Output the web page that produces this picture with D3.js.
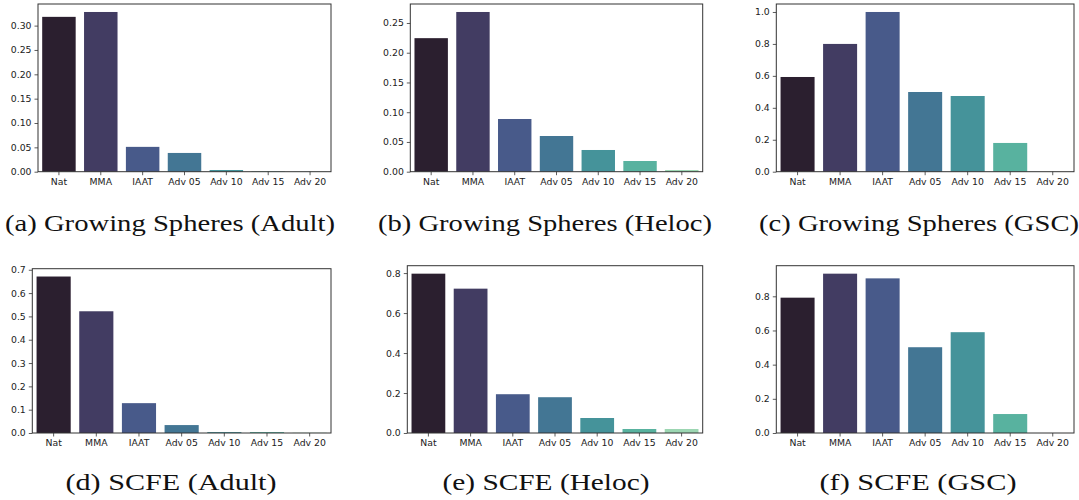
<!DOCTYPE html>
<html>
<head>
<meta charset="utf-8">
<script src="https://cdn.jsdelivr.net/npm/d3@7"></script>
<style>
  body { margin: 0; background: #fff; }
  svg { display: block; }
</style>
</head>
<body>
<div id="chart"></div>
<script>
// categories shared by all six panels
const categories = ["Nat", "MMA", "IAAT", "Adv 05", "Adv 10", "Adv 15", "Adv 20"];

// values
const gsAdult   = [0.318, 0.328, 0.051, 0.0385, 0.0035, 0.0008, 0.0003];
const gsHeloc   = [0.2245, 0.2685, 0.0886, 0.060, 0.0365, 0.018, 0.0028];
const gsGsc     = [0.593, 0.800, 1.000, 0.499, 0.474, 0.180, 0.0];
const scfeAdult = [0.671, 0.522, 0.128, 0.034, 0.004, 0.004, 0.001];
const scfeHeloc = [0.797, 0.722, 0.194, 0.179, 0.075, 0.020, 0.020];
const scfeGsc   = [0.792, 0.9325, 0.905, 0.502, 0.590, 0.111, 0.0];

// y tick labels per panel
const ticksA = [0, 0.05, 0.10, 0.15, 0.20, 0.25, 0.30];
const ticksB = [0, 0.05, 0.10, 0.15, 0.20, 0.25];
const ticksC = [0, 0.2, 0.4, 0.6, 0.8, 1.0];
const ticksD = [0, 0.1, 0.2, 0.3, 0.4, 0.5, 0.6, 0.7];
const ticksE = [0, 0.2, 0.4, 0.6, 0.8];
const ticksF = [0, 0.2, 0.4, 0.6, 0.8];

const captions = [
  "(a) Growing Spheres (Adult)", "(b) Growing Spheres (Heloc)", "(c) Growing Spheres (GSC)",
  "(d) SCFE (Adult)", "(e) SCFE (Heloc)", "(f) SCFE (GSC)"
];

// mako-like palette, desaturated as seaborn does
const palette = ["#2b1f2f", "#423c62", "#485a8a", "#437694", "#45939a", "#58b29f", "#9cd6b2"];

// axes boxes in pixels, and caption placement
const panels = [
  { values: gsAdult,   ticks: ticksA, fmt: ".2f", x0: 38,    x1: 331,  y0: 4,     y1: 171.7, cx: 170, cy: 231, cw: 330 },
  { values: gsHeloc,   ticks: ticksB, fmt: ".2f", x0: 410.3, x1: 702.7, y0: 4,   y1: 171.7, cx: 545, cy: 231, cw: 334 },
  { values: gsGsc,     ticks: ticksC, fmt: ".1f", x0: 776.3, x1: 1074, y0: 4,    y1: 171.7, cx: 919, cy: 231, cw: 320 },
  { values: scfeAdult, ticks: ticksD, fmt: ".1f", x0: 32.3,  x1: 331,  y0: 268.7, y1: 433,  cx: 171, cy: 490, cw: 211 },
  { values: scfeHeloc, ticks: ticksE, fmt: ".1f", x0: 407.3, x1: 702.7, y0: 265.7, y1: 433, cx: 546, cy: 490, cw: 207 },
  { values: scfeGsc,   ticks: ticksF, fmt: ".1f", x0: 776.3, x1: 1074, y0: 265.7, y1: 433,  cx: 918, cy: 490, cw: 197 }
];

const svg = d3.select("#chart").append("svg")
  .attr("width", 1079)
  .attr("height", 500);

panels.forEach((p, i) => {
  const g = svg.append("g");

  const x = d3.scaleBand()
    .domain(categories)
    .range([p.x0, p.x1])
    .paddingInner(0.2)
    .paddingOuter(0.1);

  const y = d3.scaleLinear()
    .domain([0, d3.max(p.values) * 1.05])
    .range([p.y1, p.y0]);

  // bars
  g.selectAll("rect.bar")
    .data(p.values)
    .join("rect")
    .attr("class", "bar")
    .attr("x", (d, j) => x(categories[j]))
    .attr("width", x.bandwidth())
    .attr("y", d => y(d))
    .attr("height", d => p.y1 - y(d))
    .attr("fill", (d, j) => palette[j]);

  // frame
  g.append("rect")
    .attr("x", p.x0)
    .attr("y", p.y0)
    .attr("width", p.x1 - p.x0)
    .attr("height", p.y1 - p.y0)
    .attr("fill", "none")
    .attr("stroke", "#333")
    .attr("stroke-width", 1);

  const xAxis = g.append("g")
    .attr("transform", `translate(0,${p.y1})`)
    .call(d3.axisBottom(x).tickSize(3.5).tickPadding(3).tickSizeOuter(0));

  const yAxis = g.append("g")
    .attr("transform", `translate(${p.x0},0)`)
    .call(d3.axisLeft(y).tickValues(p.ticks).tickFormat(d3.format(p.fmt))
      .tickSize(3.5).tickPadding(3).tickSizeOuter(0));

  [xAxis, yAxis].forEach(a => {
    a.select(".domain").remove();
    a.selectAll("line").attr("stroke", "#333").attr("stroke-width", 0.8);
    a.selectAll("text")
      .attr("fill", "#222")
      .style("font-family", "'DejaVu Sans', sans-serif")
      .style("font-size", "9.3px");
  });

  // caption
  svg.append("text")
    .attr("x", p.cx)
    .attr("y", p.cy)
    .attr("text-anchor", "middle")
    .attr("textLength", p.cw)
    .attr("lengthAdjust", "spacingAndGlyphs")
    .style("font-family", "'Liberation Serif', serif")
    .style("font-size", "24px")
    .attr("fill", "#111")
    .text(captions[i]);
});
</script>
</body>
</html>
